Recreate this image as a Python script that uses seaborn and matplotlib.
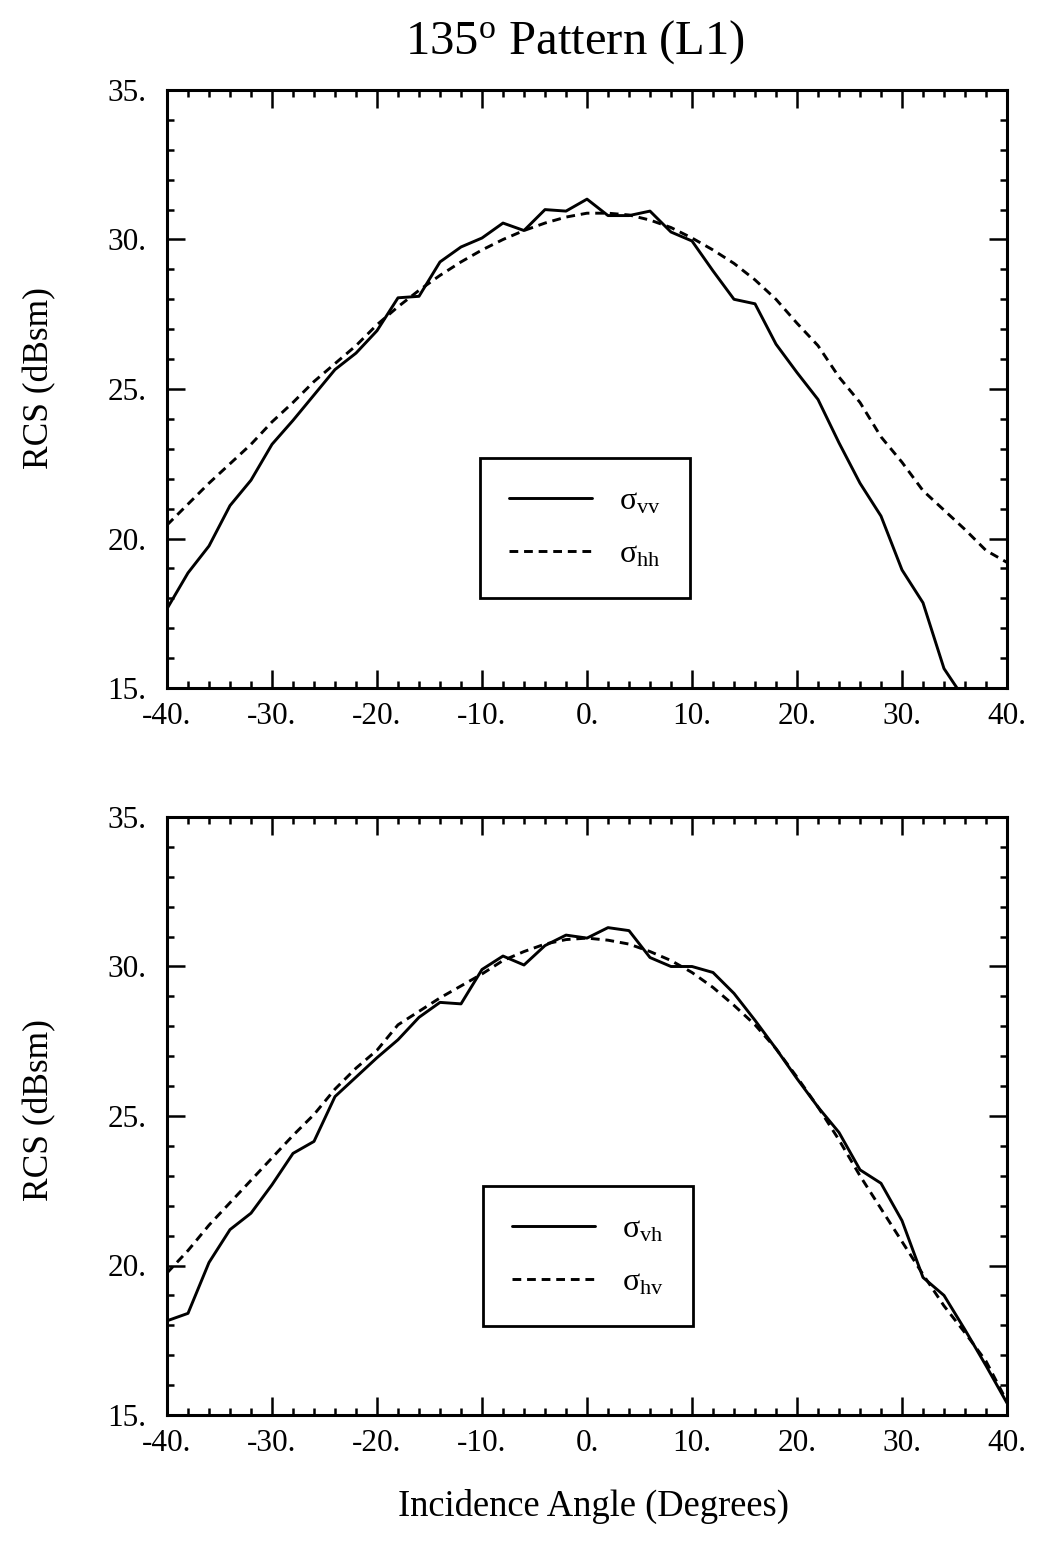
import numpy as np
import pandas as pd
import matplotlib
matplotlib.use("Agg")
import matplotlib.pyplot as plt
from matplotlib.ticker import MultipleLocator, FuncFormatter
import seaborn as sns

# ---------------- data ----------------
angles = list(range(-40, 41, 2))

sigma_vv = [17.65, 18.85, 19.75, 21.1, 21.95, 23.15, 23.95, 24.8, 25.65, 26.2,
            26.95, 28.05, 28.1, 29.25, 29.75, 30.05, 30.55, 30.3, 31.0, 30.95,
            31.35, 30.8, 30.8, 30.95, 30.25, 29.95, 28.95, 28.0, 27.85, 26.5,
            25.55, 24.65, 23.2, 21.85, 20.75, 18.95, 17.85, 15.65, 14.6, np.nan, np.nan]

sigma_hh = [20.45, 21.15, 21.85, 22.5, 23.15, 23.9, 24.55, 25.25, 25.85, 26.45,
            27.15, 27.75, 28.3, 28.8, 29.25, 29.65, 30.0, 30.3, 30.55, 30.75,
            30.88, 30.88, 30.82, 30.65, 30.4, 30.05, 29.65, 29.2, 28.65, 28.0,
            27.2, 26.45, 25.4, 24.55, 23.4, 22.55, 21.6, 20.95, 20.3, 19.6, 19.2]

sigma_vh = [18.15, 18.4, 20.1, 21.2, 21.75, 22.7, 23.75, 24.15, 25.65, 26.3,
            26.95, 27.55, 28.3, 28.8, 28.75, 29.9, 30.35, 30.05, 30.7, 31.05,
            30.95, 31.3, 31.2, 30.3, 30.0, 30.0, 29.8, 29.1, 28.2, 27.25,
            26.25, 25.3, 24.45, 23.2, 22.75, 21.5, 19.6, 19.0, 17.85, 16.65, 15.4]

sigma_hv = [19.75, 20.5, 21.35, 22.1, 22.85, 23.6, 24.35, 25.05, 25.9, 26.6,
            27.2, 28.05, 28.5, 28.95, 29.35, 29.75, 30.2, 30.5, 30.75, 30.9,
            30.95, 30.88, 30.75, 30.5, 30.2, 29.8, 29.3, 28.7, 28.05, 27.25,
            26.3, 25.3, 24.2, 23.0, 21.9, 20.8, 19.7, 18.65, 17.75, 16.8, 15.45]

title_text = "135$^{\\mathrm{o}}$ Pattern (L1)"
ylabel_text = "RCS (dBsm)"
xlabel_text = "Incidence Angle (Degrees)"
top_labels = ["σ$_{\\mathrm{vv}}$", "σ$_{\\mathrm{hh}}$"]
bot_labels = ["σ$_{\\mathrm{vh}}$", "σ$_{\\mathrm{hv}}$"]

# ---------------- style ----------------
sns.set_style("ticks")
plt.rcParams["font.family"] = ["Liberation Serif", "DejaVu Serif"]
plt.rcParams["mathtext.fontset"] = "custom"
plt.rcParams["mathtext.rm"] = "Liberation Serif"
plt.rcParams["mathtext.it"] = "Liberation Serif:italic"
plt.rcParams["mathtext.bf"] = "Liberation Serif:bold"
for k in ["text.color", "axes.labelcolor", "xtick.color", "ytick.color",
          "axes.edgecolor"]:
    plt.rcParams[k] = "black"

W, H = 1038, 1560
fig = plt.figure(figsize=(W / 100, H / 100), dpi=100)

def axes_rect(left, top, right, bottom):
    return [left / W, 1 - bottom / H, (right - left) / W, (bottom - top) / H]

ax1 = fig.add_axes(axes_rect(167, 90, 1007, 688))
ax2 = fig.add_axes(axes_rect(167, 817, 1007, 1415))

df = pd.DataFrame({"angle": angles, "vv": sigma_vv, "hh": sigma_hh,
                   "vh": sigma_vh, "hv": sigma_hv})

dash = (0, (3.0, 2.0))

def draw(ax, solid, dashed, labels, leg_anchor):
    sub = df[["angle", solid]].dropna()
    sns.lineplot(data=sub, x="angle", y=solid, ax=ax, color="black",
                 linewidth=2.1, label=labels[0], sort=False)
    sub2 = df[["angle", dashed]].dropna()
    sns.lineplot(data=sub2, x="angle", y=dashed, ax=ax, color="black",
                 linewidth=2.1, linestyle=dash, label=labels[1], sort=False)
    ax.set_xlim(-40, 40)
    ax.set_ylim(15, 35)
    ax.xaxis.set_major_locator(MultipleLocator(10))
    ax.xaxis.set_minor_locator(MultipleLocator(2))
    ax.yaxis.set_major_locator(MultipleLocator(5))
    ax.yaxis.set_minor_locator(MultipleLocator(1))
    fmt = FuncFormatter(lambda v, p: f"{int(round(v))}.")
    ax.xaxis.set_major_formatter(fmt)
    ax.yaxis.set_major_formatter(fmt)
    ax.tick_params(which="both", direction="in", top=True, right=True,
                   color="black", labelsize=22.5, labelcolor="black")
    ax.tick_params(which="major", length=13, width=1.8)
    ax.tick_params(which="minor", length=5, width=1.8)
    ax.tick_params(axis="y", which="major", pad=15)
    ax.tick_params(axis="x", which="major", pad=10)
    for s in ax.spines.values():
        s.set_visible(True)
        s.set_linewidth(2.2)
        s.set_color("black")
    ax.set_xlabel("")
    ax.set_ylabel("")
    leg = ax.legend(loc="upper left", bbox_to_anchor=leg_anchor,
                    borderaxespad=0, frameon=True, fancybox=False,
                    framealpha=1, edgecolor="black", fontsize=23,
                    handlelength=2.6, handletextpad=0.85, borderpad=0.9,
                    labelspacing=0.75)
    leg.get_frame().set_linewidth(2.0)

draw(ax1, "vv", "hh", top_labels, ((480 - 167) / 840, (688 - 458) / 598))
draw(ax2, "vh", "hv", bot_labels, ((483 - 167) / 840, (1415 - 1186) / 598))

fig.text(575 / W, 1 - 42 / H, title_text, ha="center", va="center", fontsize=35)
fig.text(40 / W, 1 - 378 / H, ylabel_text, rotation=90, ha="center",
         va="center", fontsize=25.5)
fig.text(40 / W, 1 - 1110 / H, ylabel_text, rotation=90, ha="center",
         va="center", fontsize=25.5)
fig.text(594 / W, 1 - 1506 / H, xlabel_text, ha="center", va="center",
         fontsize=26.3)

fig.savefig("out.png", dpi=100)
